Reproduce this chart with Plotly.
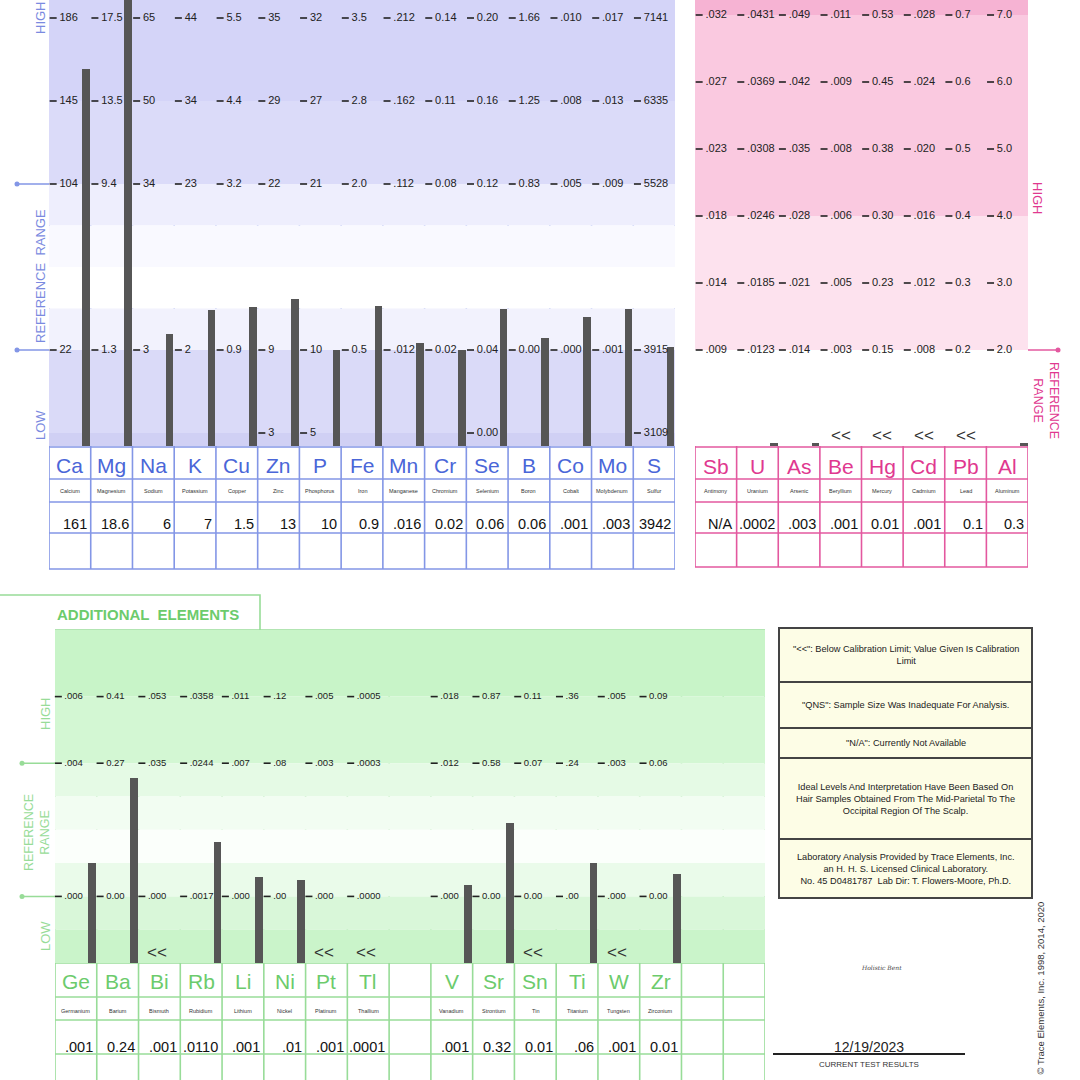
import plotly.graph_objects as go

W = H = 1080
NARROW = "Liberation Sans Narrow, Arial Narrow, Liberation Sans, Arial, sans-serif"
SANS = "Liberation Sans, Arial, sans-serif"

# ---------------- DATA ----------------
# Nutrient elements (blue panel)
nut_sym = ["Ca", "Mg", "Na", "K", "Cu", "Zn", "P", "Fe", "Mn", "Cr", "Se", "B", "Co", "Mo", "S"]
nut_name = ["Calcium", "Magnesium", "Sodium", "Potassium", "Copper", "Zinc", "Phosphorus", "Iron",
            "Manganese", "Chromium", "Selenium", "Boron", "Cobalt", "Molybdenum", "Sulfur"]
nut_result = ["161", "18.6", "6", "7", "1.5", "13", "10", "0.9", ".016", "0.02", "0.06", "0.06", ".001", ".003", "3942"]
nut_L5 = ["186", "17.5", "65", "44", "5.5", "35", "32", "3.5", ".212", "0.14", "0.20", "1.66", ".010", ".017", "7141"]
nut_L4 = ["145", "13.5", "50", "34", "4.4", "29", "27", "2.8", ".162", "0.11", "0.16", "1.25", ".008", ".013", "6335"]
nut_L3 = ["104", "9.4", "34", "23", "3.2", "22", "21", "2.0", ".112", "0.08", "0.12", "0.83", ".005", ".009", "5528"]
nut_L1 = ["22", "1.3", "3", "2", "0.9", "9", "10", "0.5", ".012", "0.02", "0.04", "0.00", ".000", ".001", "3915"]
nut_L0 = ["", "", "", "", "", "3", "5", "", "", "", "0.00", "", "", "", "3109"]

# Toxic elements (pink panel)
tox_sym = ["Sb", "U", "As", "Be", "Hg", "Cd", "Pb", "Al"]
tox_name = ["Antimony", "Uranium", "Arsenic", "Beryllium", "Mercury", "Cadmium", "Lead", "Aluminum"]
tox_result = ["N/A", ".0002", ".003", ".001", "0.01", ".001", "0.1", "0.3"]
tox_below_cal = [False, False, False, True, True, True, True, False]
tox_L6 = [".032", ".0431", ".049", ".011", "0.53", ".028", "0.7", "7.0"]
tox_L5 = [".027", ".0369", ".042", ".009", "0.45", ".024", "0.6", "6.0"]
tox_L4 = [".023", ".0308", ".035", ".008", "0.38", ".020", "0.5", "5.0"]
tox_L3 = [".018", ".0246", ".028", ".006", "0.30", ".016", "0.4", "4.0"]
tox_L2 = [".014", ".0185", ".021", ".005", "0.23", ".012", "0.3", "3.0"]
tox_L1 = [".009", ".0123", ".014", ".003", "0.15", ".008", "0.2", "2.0"]

# Additional elements (green panel)
add_sym = ["Ge", "Ba", "Bi", "Rb", "Li", "Ni", "Pt", "Tl", "", "V", "Sr", "Sn", "Ti", "W", "Zr", "", ""]
add_name = ["Germanium", "Barium", "Bismuth", "Rubidium", "Lithium", "Nickel", "Platinum", "Thallium", "",
            "Vanadium", "Strontium", "Tin", "Titanium", "Tungsten", "Zirconium", "", ""]
add_result = [".001", "0.24", ".001", ".0110", ".001", ".01", ".001", ".0001", "",
              ".001", "0.32", "0.01", ".06", ".001", "0.01", "", ""]
add_below_cal = [False, False, True, False, False, False, True, True, False,
                 False, False, True, False, True, False, False, False]
add_L4 = [".006", "0.41", ".053", ".0358", ".011", ".12", ".005", ".0005", "",
          ".018", "0.87", "0.11", ".36", ".005", "0.09", "", ""]
add_L3 = [".004", "0.27", ".035", ".0244", ".007", ".08", ".003", ".0003", "",
          ".012", "0.58", "0.07", ".24", ".003", "0.06", "", ""]
add_L1 = [".000", "0.00", ".000", ".0017", ".000", ".00", ".000", ".0000", "",
          ".000", "0.00", "0.00", ".00", ".000", "0.00", "", ""]

legend_notes = [
    '"<<": Below Calibration Limit; Value Given Is Calibration<br>Limit',
    '"QNS": Sample Size Was Inadequate For Analysis.',
    '"N/A": Currently Not Available',
    'Ideal Levels And Interpretation Have Been Based On<br>Hair Samples Obtained From The Mid-Parietal To The<br>Occipital Region Of The Scalp.',
    'Laboratory Analysis Provided by Trace Elements, Inc.<br>an H. H. S. Licensed Clinical Laboratory.<br>No. 45 D0481787  Lab Dir: T. Flowers-Moore, Ph.D.',
]
test_date = "12/19/2023"


# ---------------- HELPERS ----------------
def fx(px):
    return px / W


def fy(py):
    return 1 - py / H


def num(s):
    try:
        return float(s)
    except ValueError:
        return None


def interp_level(v, pts):
    """Piecewise-linear position of value v on the report's level scale."""
    for (l0, v0), (l1, v1) in zip(pts, pts[1:]):
        if v <= v1:
            return l0 + (v - v0) / (v1 - v0) * (l1 - l0)
    (l0, v0), (l1, v1) = pts[-2], pts[-1]
    return l1 + (v - v1) / (v1 - v0) * (l1 - l0)


fig = go.Figure()
shapes = []
annotations = []

BLUE_LINE = "#8396e6"
BLUE_TXT = "#4a66d8"
BLUE_LBL = "#7a8ae0"
PINK_LINE = "#e3589f"
PINK_TXT = "#e0388f"
GREEN_LINE = "#98dc98"
GREEN_TXT = "#6ccb6c"
GREEN_LBL = "#98dc98"
BAR = "#565656"

# ---------------- AXES GEOMETRY ----------------
b_lo, b_hi = (433 - 446) / 83, (433 - 0) / 83
p_lo, p_hi = (417 - 446) / 67, (417 - 0) / 67
g_lo, g_hi = 0, 5

ax_common = dict(visible=False, showgrid=False, zeroline=False, fixedrange=True)
fig.update_layout(
    xaxis=dict(domain=[fx(49), fx(675)], range=[0, 15], **ax_common),
    yaxis=dict(domain=[fy(446), 1], range=[b_lo, b_hi], **ax_common),
    xaxis2=dict(domain=[fx(695), fx(1028)], range=[0, 8], anchor="y2", **ax_common),
    yaxis2=dict(domain=[fy(446), 1], range=[p_lo, p_hi], anchor="x2", **ax_common),
    xaxis3=dict(domain=[fx(55), fx(765)], range=[0, 17], anchor="y3", **ax_common),
    yaxis3=dict(domain=[fy(963), fy(630)], range=[g_lo, g_hi], anchor="x3", **ax_common),
)

# ---------------- BANDS ----------------
blue_bands = [(4, b_hi, "#d4d4f8"), (3, 4, "#dbdbf9"), (2.5, 3, "#eeeefd"), (2, 2.5, "#f9f9ff"),
              (1.5, 2, "#ffffff"), (1, 1.5, "#f2f2fd"), (0, 1, "#dadaf8"), (b_lo, 0, "#d0d0f4")]
for y0, y1, c in blue_bands:
    shapes.append(dict(type="rect", xref="x", yref="y", x0=0, x1=15, y0=y0, y1=y1,
                       fillcolor=c, line=dict(width=0), layer="below"))
pink_bands = [(6, p_hi, "#f6b3d3"), (3, 6, "#fac9e0"), (1, 3, "#fde2ee"), (p_lo, 1, "#ffffff")]
for y0, y1, c in pink_bands:
    shapes.append(dict(type="rect", xref="x2", yref="y2", x0=0, x1=8, y0=y0, y1=y1,
                       fillcolor=c, line=dict(width=0), layer="below"))
green_bands = [(4, 5, "#c8f4c8"), (3, 4, "#d3f7d3"), (2.5, 3, "#e5fae5"), (2, 2.5, "#f2fdf2"),
               (1.5, 2, "#fbfffb"), (1, 1.5, "#eafbea"), (0.5, 1, "#d9f7d9"), (0, 0.5, "#caf4ca")]
for y0, y1, c in green_bands:
    shapes.append(dict(type="rect", xref="x3", yref="y3", x0=0, x1=17, y0=y0, y1=y1,
                       fillcolor=c, line=dict(width=0), layer="below"))


# ---------------- GRID / TABLES ----------------
def table_grid(xref, ncol, top_px, rows_px, bottom_px, color):
    for i in range(ncol + 1):
        shapes.append(dict(type="line", xref=xref, yref="paper", x0=i, x1=i,
                           y0=fy(bottom_px), y1=fy(top_px), line=dict(color=color, width=1.6), layer="below"))
    for r in rows_px:
        shapes.append(dict(type="line", xref=xref, yref="paper", x0=0, x1=ncol,
                           y0=fy(r), y1=fy(r), line=dict(color=color, width=1.6), layer="below"))


table_grid("x", 15, -5, [447, 479, 502, 533, 569], 569, BLUE_LINE)
table_grid("x2", 8, -5, [447, 479, 502, 533, 567], 567, PINK_LINE)
table_grid("x3", 17, 630, [630, 963, 997, 1020, 1054], 1090, GREEN_LINE)

# Additional elements title tab
shapes.append(dict(type="path", xref="paper", yref="paper",
                   path=f"M {fx(-5)},{fy(595)} L {fx(260)},{fy(595)} L {fx(260)},{fy(630)}",
                   line=dict(color=GREEN_LINE, width=1.6)))
annotations.append(dict(xref="paper", yref="paper", x=fx(55), y=fy(614), xanchor="left", yanchor="middle",
                        text="ADDITIONAL  ELEMENTS", showarrow=False,
                        font=dict(family=SANS, size=15, color=GREEN_TXT, weight="bold")))


# ---------------- BARS ----------------
def bar_trace(xs, levels, base, xa, ya):
    return go.Bar(x=xs, y=[l - base for l in levels], base=base, width=0.18,
                  marker=dict(color=BAR, line=dict(width=0)), xaxis=xa, yaxis=ya,
                  hoverinfo="skip", showlegend=False)


bx, bl = [], []
for i in range(len(nut_sym)):
    L1, L3 = num(nut_L1[i]), num(nut_L3[i])
    pts = [(1, L1), (2, (L1 + L3) / 2), (3, L3), (4, num(nut_L4[i])), (5, num(nut_L5[i]))]
    bx.append(i + 0.89)
    bl.append(interp_level(num(nut_result[i]), pts))
fig.add_trace(bar_trace(bx, bl, b_lo, "x", "y"))

STUB = 0.04  # toxic results below the reference floor are drawn as a minimal stub, as on the report
px_, pl_ = [], []
for i in range(len(tox_sym)):
    v = num(tox_result[i])
    if v is None or tox_below_cal[i]:
        continue
    levels = [num(s) for s in (tox_L1[i], tox_L2[i], tox_L3[i], tox_L4[i], tox_L5[i], tox_L6[i])]
    if v < levels[0]:
        lev = p_lo + STUB
    else:
        lev = interp_level(v, list(zip(range(1, 7), levels)))
    px_.append(i + 0.9)
    pl_.append(lev)
fig.add_trace(bar_trace(px_, pl_, p_lo, "x2", "y2"))

gx, gl = [], []
for i in range(len(add_sym)):
    v = num(add_result[i])
    if v is None or add_below_cal[i]:
        continue
    L1, L3, L4 = num(add_L1[i]), num(add_L3[i]), num(add_L4[i])
    pts = [(1, L1), (2, (L1 + L3) / 2), (3, L3), (4, L4)]
    gx.append(i + 0.89)
    gl.append(interp_level(v, pts))
fig.add_trace(bar_trace(gx, gl, g_lo, "x3", "y3"))


# ---------------- TICK LABELS ----------------
def tick_trace(xs, ys, texts, xa, ya, size):
    return go.Scatter(x=xs, y=ys, text=["\u2009" + t for t in texts], mode="markers+text",
                      textposition="middle right",
                      marker=dict(symbol="line-ew", size=5, line=dict(width=1.6, color="#222")),
                      textfont=dict(family=NARROW, size=size, color="#222"),
                      xaxis=xa, yaxis=ya, hoverinfo="skip", showlegend=False, cliponaxis=False)


tx, ty, tt = [], [], []
for i in range(len(nut_sym)):
    for lev, arr in ((0, nut_L0), (1, nut_L1), (3, nut_L3), (4, nut_L4), (5, nut_L5)):
        if arr[i]:
            tx.append(i + 0.1); ty.append(lev); tt.append(arr[i])
fig.add_trace(tick_trace(tx, ty, tt, "x", "y", 11))

tx, ty, tt = [], [], []
for i in range(len(tox_sym)):
    for lev, arr in enumerate((tox_L1, tox_L2, tox_L3, tox_L4, tox_L5, tox_L6), start=1):
        tx.append(i + 0.1); ty.append(lev); tt.append(arr[i])
fig.add_trace(tick_trace(tx, ty, tt, "x2", "y2", 11))

tx, ty, tt = [], [], []
for i in range(len(add_sym)):
    for lev, arr in ((1, add_L1), (3, add_L3), (4, add_L4)):
        if arr[i]:
            tx.append(i + 0.08); ty.append(lev); tt.append(arr[i])
fig.add_trace(tick_trace(tx, ty, tt, "x3", "y3", 9.5))


# ---------------- TABLE TEXT ----------------
def table_text(xref, syms, names, results, color, y_sym, y_name, y_val):
    for i in range(len(syms)):
        if syms[i]:
            annotations.append(dict(xref=xref, yref="paper", x=i + 0.5, y=fy(y_sym), text=syms[i],
                                    showarrow=False, xanchor="center", yanchor="middle",
                                    font=dict(family=NARROW, size=21, color=color)))
        if names[i]:
            annotations.append(dict(xref=xref, yref="paper", x=i + 0.5, y=fy(y_name), text=names[i],
                                    showarrow=False, xanchor="center", yanchor="middle",
                                    font=dict(family=SANS, size=5.5, color="#333")))
        if results[i]:
            annotations.append(dict(xref=xref, yref="paper", x=i + 0.96, y=fy(y_val), text=results[i],
                                    showarrow=False, xanchor="right", yanchor="middle",
                                    font=dict(family=SANS, size=14.5, color="#111")))


table_text("x", nut_sym, nut_name, nut_result, BLUE_TXT, 465, 491, 524)
table_text("x2", tox_sym, tox_name, tox_result, PINK_TXT, 466, 491, 524)
table_text("x3", add_sym, add_name, add_result, GREEN_TXT, 981, 1011, 1047)

for i, flag in enumerate(tox_below_cal):
    if flag:
        annotations.append(dict(xref="x2", yref="paper", x=i + 0.5, y=fy(436), text="&lt;&lt;",
                                xanchor="center", yanchor="middle",
                                showarrow=False, font=dict(family=SANS, size=17, color="#333")))
for i, flag in enumerate(add_below_cal):
    if flag:
        annotations.append(dict(xref="x3", yref="paper", x=i + 0.45, y=fy(952), text="&lt;&lt;",
                                xanchor="center", yanchor="middle",
                                showarrow=False, font=dict(family=SANS, size=17, color="#333")))


# ---------------- SIDE LABELS & MARKERS ----------------
def side(text, x, y, ang, color, size=13):
    annotations.append(dict(xref="paper", yref="paper", x=fx(x), y=fy(y), text=text, textangle=ang,
                            showarrow=False, xanchor="center", yanchor="middle",
                            font=dict(family=SANS, size=size, color=color)))


side("HIGH", 40, 18, -90, BLUE_LBL)
side("REFERENCE  RANGE", 40, 276, -90, BLUE_LBL)
side("LOW", 40, 425, -90, BLUE_LBL)
side("HIGH", 1038, 198, 90, PINK_TXT)
side("REFERENCE<br>RANGE", 1046, 400, 90, PINK_TXT, 12.5)
side("HIGH", 45, 714, -90, GREEN_LBL)
side("REFERENCE<br>RANGE", 37, 833, -90, GREEN_LBL, 12.5)
side("LOW", 45, 936, -90, GREEN_LBL)


def marker(x0, x1, ylev, yref, dot_px, color):
    shapes.append(dict(type="line", xref="paper", yref=yref, x0=fx(x0), x1=fx(x1), y0=ylev, y1=ylev,
                       line=dict(color=color, width=1.5)))
    shapes.append(dict(type="circle", xref="paper", yref=yref, xsizemode="pixel", ysizemode="pixel",
                       xanchor=fx(dot_px), yanchor=ylev, x0=-2.5, x1=2.5, y0=-2.5, y1=2.5,
                       fillcolor=color, line=dict(width=0)))


marker(17, 49, 3, "y", 17, BLUE_LINE)
marker(17, 49, 1, "y", 17, BLUE_LINE)
marker(1028, 1058, 1, "y2", 1058, PINK_LINE)
marker(22, 55, 3, "y3", 22, GREEN_LINE)
marker(22, 55, 1, "y3", 22, GREEN_LINE)

# ---------------- NOTES BOX ----------------
rows = [628, 682, 728, 758, 839, 898]
shapes.append(dict(type="rect", xref="paper", yref="paper", x0=fx(779), x1=fx(1032), y0=fy(898), y1=fy(628),
                   fillcolor="#fdfde6", line=dict(color="#444", width=2)))
for r in rows[1:-1]:
    shapes.append(dict(type="line", xref="paper", yref="paper", x0=fx(779), x1=fx(1032), y0=fy(r), y1=fy(r),
                       line=dict(color="#444", width=2)))
for k, note in enumerate(legend_notes):
    annotations.append(dict(xref="paper", yref="paper", x=fx(905.5), y=fy((rows[k] + rows[k + 1]) / 2),
                            text=note, showarrow=False, xanchor="center", yanchor="middle",
                            font=dict(family=NARROW, size=9.2, color="#222")))

# ---------------- FOOTER ----------------
shapes.append(dict(type="line", xref="paper", yref="paper", x0=fx(773), x1=fx(965), y0=fy(1054), y1=fy(1054),
                   line=dict(color="#222", width=2)))
annotations.append(dict(xref="paper", yref="paper", x=fx(869), y=fy(1047), text=test_date, showarrow=False,
                        xanchor="center", yanchor="middle",
                        font=dict(family=SANS, size=14, color="#222")))
annotations.append(dict(xref="paper", yref="paper", x=fx(869), y=fy(1064), text="CURRENT TEST RESULTS",
                        xanchor="center", yanchor="middle",
                        showarrow=False, font=dict(family=NARROW, size=8, color="#333")))
annotations.append(dict(xref="paper", yref="paper", x=fx(881), y=fy(967), text="<i>Holistic Bent</i>",
                        xanchor="center", yanchor="middle",
                        showarrow=False, font=dict(family="DejaVu Serif", size=6, color="#444")))
annotations.append(dict(xref="paper", yref="paper", x=fx(1040), y=fy(900), xanchor="center", yanchor="top",
                        text="© Trace Elements, Inc. 1998, 2014, 2020", textangle=-90, showarrow=False,
                        font=dict(family=SANS, size=9.5, color="#333")))

fig.update_layout(width=W, height=H, margin=dict(l=0, r=0, t=0, b=0), autosize=False,
                  paper_bgcolor="white", plot_bgcolor="rgba(0,0,0,0)", showlegend=False,
                  bargap=0, shapes=shapes, annotations=annotations)

fig.write_html("out.html", config={"displayModeBar": False},
               post_script="document.body.style.margin='0';document.body.style.padding='0';")
